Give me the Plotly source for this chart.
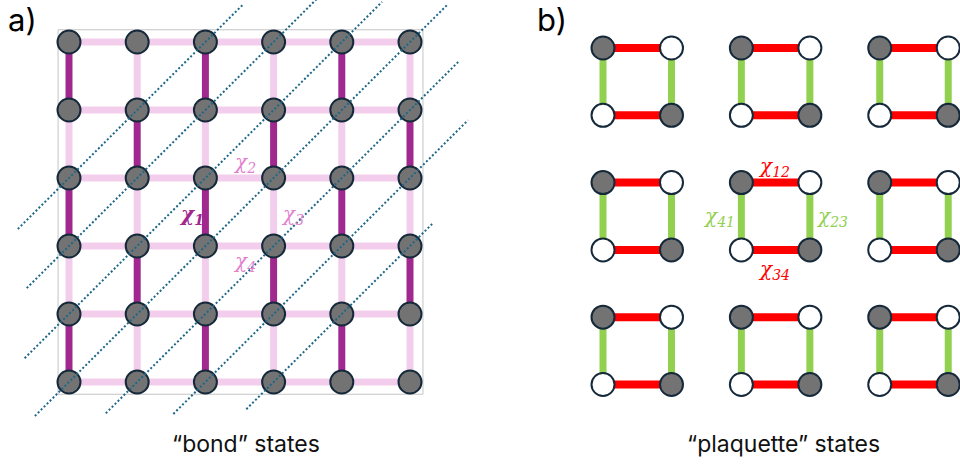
import plotly.graph_objects as go

# ---------------- data ----------------
# panel a: 6x6 square lattice, vertical bond states (1 = strong "bond", 0 = weak)
n_cols = 6
n_rows = 6
vbond_state = [
    [1, 0, 1, 0, 1, 0],
    [0, 1, 0, 1, 0, 1],
    [1, 0, 1, 0, 1, 0],
    [0, 1, 0, 1, 0, 1],
    [1, 0, 1, 0, 1, 0],
]
# diagonal dotted lines: constant (col + row), with start / end column
diag_sum = [2, 3, 4, 5, 6, 7, 8]
diag_c_start = [-0.75, -0.62, -0.65, -0.50, 0.54, 1.53, 2.60]
diag_c_end = [2.55, 3.63, 4.59, 5.56, 5.73, 5.85, 5.34]
bond_labels = ["χ<sub>1</sub>", "χ<sub>2</sub>", "χ<sub>3</sub>", "χ<sub>4</sub>"]
bond_label_c = [1.80, 2.58, 3.27, 2.58]
bond_label_r = [2.54, 1.78, 2.54, 3.24]

# panel b: 3x3 plaquettes; corner fill (1 = filled) in order TL, TR, BL, BR
plaq_cols = 3
plaq_rows = 3
corner_dx = [0, 1, 0, 1]
corner_dy = [0, 0, 1, 1]
corner_filled = [1, 0, 0, 1]
plaq_labels = ["χ<sub>12</sub>", "χ<sub>41</sub>", "χ<sub>23</sub>", "χ<sub>34</sub>"]
plaq_label_color = ["red", "green", "green", "red"]
plaq_label_x = [2.50, 1.69, 3.34, 2.50]
plaq_label_y = [1.77, 2.51, 2.51, 3.30]

# ---------------- styles ----------------
DARK = "#A0288F"
LIGHT = "#F2CDEC"
LABEL_PINK = "#E37FCF"
NODE = "#737373"
EDGE = "#15293A"
DIAG = "#1D6789"
RED = "#FF0000"
GREEN = "#92D050"
PITCH_X = 2.02
PITCH_Y = 2.0

fig = go.Figure()

# ---- panel a bonds ----
hx, hy = [], []
for r in range(n_rows):
    hx += [0, n_cols - 1, None]
    hy += [r, r, None]
lx, ly, dx_, dy_ = [], [], [], []
for r, row in enumerate(vbond_state):
    for c, s in enumerate(row):
        if s:
            dx_ += [c, c, None]; dy_ += [r, r + 1, None]
        else:
            lx += [c, c, None]; ly += [r, r + 1, None]
fig.add_trace(go.Scatter(x=hx, y=hy, mode="lines", line=dict(color=LIGHT, width=7),
                         xaxis="x", yaxis="y", hoverinfo="skip"))
fig.add_trace(go.Scatter(x=lx, y=ly, mode="lines", line=dict(color=LIGHT, width=7),
                         xaxis="x", yaxis="y", hoverinfo="skip"))
fig.add_trace(go.Scatter(x=dx_, y=dy_, mode="lines", line=dict(color=DARK, width=7),
                         xaxis="x", yaxis="y", hoverinfo="skip"))
# nodes
nx = [c for r in range(n_rows) for c in range(n_cols)]
ny = [r for r in range(n_rows) for c in range(n_cols)]
fig.add_trace(go.Scatter(x=nx, y=ny, mode="markers",
                         marker=dict(size=23, color=NODE, line=dict(color=EDGE, width=2)),
                         xaxis="x", yaxis="y", hoverinfo="skip"))
# diagonals
gx, gy = [], []
for s, c0, c1 in zip(diag_sum, diag_c_start, diag_c_end):
    gx += [c0, c1, None]
    gy += [s - c0, s - c1, None]
fig.add_trace(go.Scatter(x=gx, y=gy, mode="lines",
                         line=dict(color=DIAG, width=2, dash="2px,2.2px"),
                         xaxis="x", yaxis="y", hoverinfo="skip"))
# labels
for i, (t, c, r) in enumerate(zip(bond_labels, bond_label_c, bond_label_r)):
    fig.add_annotation(x=c, y=r, xref="x", yref="y",
                       text=("<b><i>%s</i></b>" % t) if i == 0 else "<i>%s</i>" % t,
                       showarrow=False, xanchor="center", yanchor="middle",
                       font=dict(family="DejaVu Serif", size=20, color=DARK if i == 0 else LABEL_PINK))

# frame around lattice
fig.add_shape(type="rect", xref="x", yref="y", x0=-0.16, x1=n_cols - 1 + 0.19,
              y0=-0.18, y1=n_rows - 1 + 0.18, line=dict(color="#C4C4C4", width=1), layer="below")

# ---- panel b ----
rx, ry, gx2, gy2 = [], [], [], []
px_f, py_f, px_e, py_e = [], [], [], []
for k in range(plaq_rows):
    for j in range(plaq_cols):
        x0 = j * PITCH_X
        y0 = k * PITCH_Y
        rx += [x0, x0 + 1, None, x0, x0 + 1, None]
        ry += [y0, y0, None, y0 + 1, y0 + 1, None]
        gx2 += [x0, x0, None, x0 + 1, x0 + 1, None]
        gy2 += [y0, y0 + 1, None, y0, y0 + 1, None]
        for ddx, ddy, f in zip(corner_dx, corner_dy, corner_filled):
            if f:
                px_f.append(x0 + ddx); py_f.append(y0 + ddy)
            else:
                px_e.append(x0 + ddx); py_e.append(y0 + ddy)
fig.add_trace(go.Scatter(x=rx, y=ry, mode="lines", line=dict(color=RED, width=8),
                         xaxis="x2", yaxis="y2", hoverinfo="skip"))
fig.add_trace(go.Scatter(x=gx2, y=gy2, mode="lines", line=dict(color=GREEN, width=7),
                         xaxis="x2", yaxis="y2", hoverinfo="skip"))
fig.add_trace(go.Scatter(x=px_f, y=py_f, mode="markers",
                         marker=dict(size=23, color=NODE, line=dict(color=EDGE, width=2)),
                         xaxis="x2", yaxis="y2", hoverinfo="skip"))
fig.add_trace(go.Scatter(x=px_e, y=py_e, mode="markers",
                         marker=dict(size=23, color="white", line=dict(color=EDGE, width=2)),
                         xaxis="x2", yaxis="y2", hoverinfo="skip"))
for t, cname, x, y in zip(plaq_labels, plaq_label_color, plaq_label_x, plaq_label_y):
    col = RED if cname == "red" else GREEN
    fig.add_annotation(x=x, y=y, xref="x2", yref="y2", text="<i>%s</i>" % t, showarrow=False,
                       xanchor="center", yanchor="middle",
                       font=dict(family="DejaVu Serif", size=20, color=col))

# panel letters and captions
cap = dict(showarrow=False, xref="paper", yref="paper", xanchor="center", yanchor="middle")
fig.add_annotation(x=22 / 960, y=1 - 19 / 470, text="a)",
                   font=dict(family="Inter", size=31, color="black"), **cap)
fig.add_annotation(x=552 / 960, y=1 - 19 / 470, text="b)",
                   font=dict(family="Inter", size=31, color="black"), **cap)
fig.add_annotation(x=246 / 960, y=1 - 444 / 470, text="“bond” states",
                   font=dict(family="Inter", size=23, color="#111111"), **cap)
fig.add_annotation(x=783 / 960, y=1 - 444 / 470, text="“plaquette” states",
                   font=dict(family="Inter", size=23, color="#111111"), **cap)

ax = dict(visible=False, showgrid=False, zeroline=False, fixedrange=True)
fig.update_layout(
    width=960, height=470, margin=dict(l=0, r=0, t=0, b=0),
    paper_bgcolor="white", plot_bgcolor="white", showlegend=False,
    xaxis=dict(ax, domain=[0, 0.5], range=[(0 - 69) / 68.2, (480 - 69) / 68.2]),
    yaxis=dict(ax, domain=[0, 1], range=[(470 - 42) / 68.0, (0 - 42) / 68.0]),
    xaxis2=dict(ax, domain=[0.5, 1], range=[(480 - 603) / 68.5, (960 - 603) / 68.5]),
    yaxis2=dict(ax, domain=[0, 1], range=[(470 - 48) / 67.3, (0 - 48) / 67.3], anchor="x2"),
)

fig.write_html("out.html", config={"displayModeBar": False},
               post_script="document.body.style.margin='0';document.body.style.overflow='hidden';")
